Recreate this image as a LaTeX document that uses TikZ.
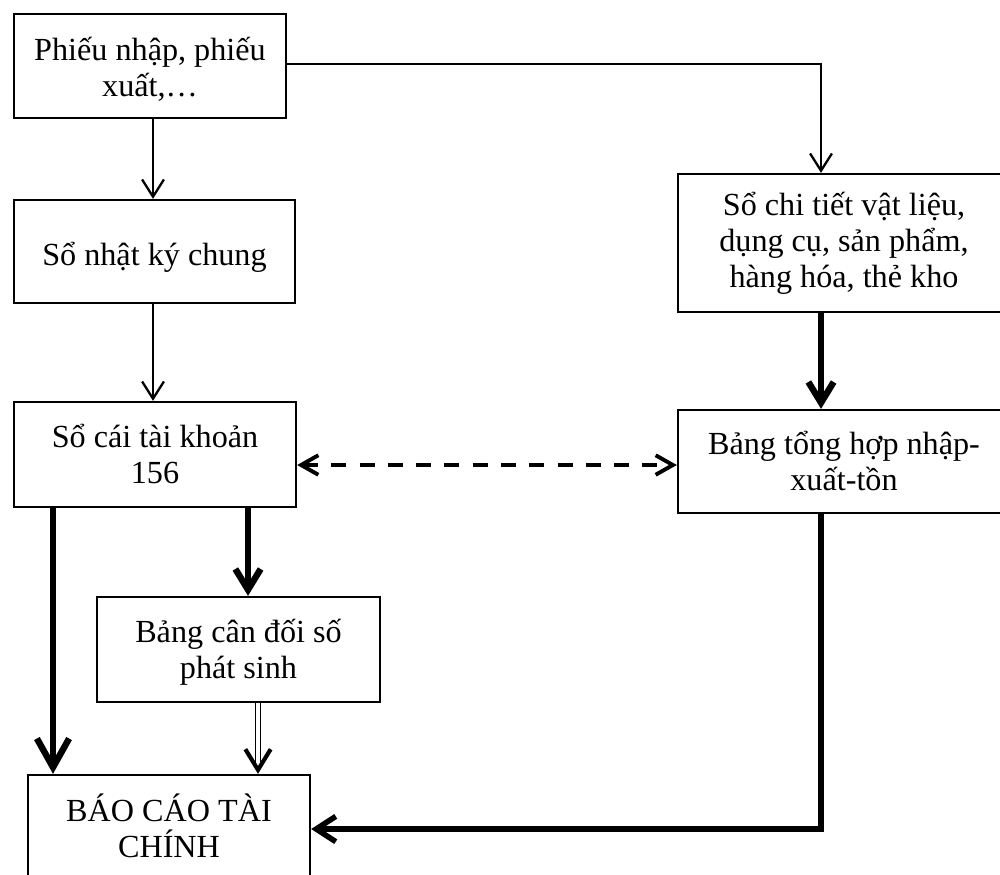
\documentclass[tikz,border=0pt]{standalone}
\usepackage{fontspec}
\setmainfont{Liberation Serif}
\usetikzlibrary{arrows.meta}
% one drawing unit
\newdimen\pxu \pxu=0.435pt
% centred lines whose last baseline sits #1 units below the box centre
\newcommand\bxtext[2]{\makebox[0pt]{\raisebox{-#1\pxu}[0pt][0pt]{%
  \parbox[b]{8cm}{\centering\lineskiplimit=-\maxdimen #2}}}}
\begin{document}
\begin{tikzpicture}[x=0.435pt,y=-0.435pt,
  box/.style={draw, line width=1pt, inner sep=0pt,
    font=\fontsize{14}{15.5}\selectfont},
  size/.style 2 args={minimum width=#1*0.435pt, minimum height=#2*0.435pt},
  thinarrow/.style={line width=1pt, -{Straight Barb[length=7.5pt,width=9.5pt]}},
  bigarrow/.style={line width=2.8pt, -{Straight Barb[length=12.5pt,width=14pt]}},
  midarrow/.style={line width=2.8pt, -{Straight Barb[length=9pt,width=11pt]}},
  flowline/.style={line width=2.4pt, -{Straight Barb[length=8.5pt,width=11pt]}},
  linkarrow/.style={line width=1.7pt, dash pattern=on 6.5pt off 5.8pt,
    {Straight Barb[length=7.5pt,width=8.5pt]}-{Straight Barb[length=7.5pt,width=8.5pt]}},
  doublearrow/.style={line width=0.6pt, double, double distance=1.4pt,
    -{Straight Barb[length=9pt,width=11pt,line width=1.8pt]}}
]
\useasboundingbox (0,0) rectangle (1000,874);
\clip (0,0) rectangle (1000,874);

% boxes
\node[box, size={272}{104}] (b1) at (150,66)
  {\bxtext{30}{Phiếu nhập, phiếu\\xuất,…}};
\node[box, size={281}{103}] (b2) at (154.5,251.5)
  {\bxtext{13.5}{Sổ nhật ký chung}};
\node[box, size={282}{105}] (b3) at (155,454.5)
  {\bxtext{28.5}{Sổ cái tài khoản\\156}};
\node[box, size={283}{105}] (b4) at (238.5,649.5)
  {\bxtext{28.5}{Bảng cân đối số\\phát sinh}};
\node[box, size={282}{108}] (b5) at (169,829)
  {\bxtext{28}{BÁO CÁO TÀI\\CHÍNH}};
\node[box, size={332}{138}] (b6) at (844,243)
  {\bxtext{44}{Sổ chi tiết vật liệu,\\dụng cụ, sản phẩm,\\hàng hóa, thẻ kho}};
\node[box, size={332}{103}] (b7) at (844,461.5)
  {\bxtext{28.5}{Bảng tổng hợp nhập-\\xuất-tồn}};

% routing columns and rows
\coordinate (rc) at (821,0);
\coordinate (top) at (0,64);
\coordinate (dl) at (0,465);
\coordinate (c1) at (53,0);
\coordinate (c2) at (248,0);
\coordinate (c3) at (258,0);
\coordinate (c0) at (153,0);

% connectors
\draw[thinarrow] (c0 |- b1.south) -- (c0 |- b2.north);
\draw[thinarrow] (c0 |- b2.south) -- (c0 |- b3.north);
\draw[thinarrow] (b1.east |- top) -| (rc |- b6.north);
\draw[midarrow] (rc |- b6.south) -- (rc |- b7.north);
\draw[flowline] (rc |- b7.south) |- (b5.east);
\draw[linkarrow] (dl -| b3.east) -- (dl -| b7.west);
\draw[bigarrow] (c1 |- b3.south) -- (c1 |- b5.north);
\draw[midarrow] (c2 |- b3.south) -- (c2 |- b4.north);
\draw[doublearrow] (c3 |- b4.south) -- (c3 |- b5.north);
\end{tikzpicture}
\end{document}
